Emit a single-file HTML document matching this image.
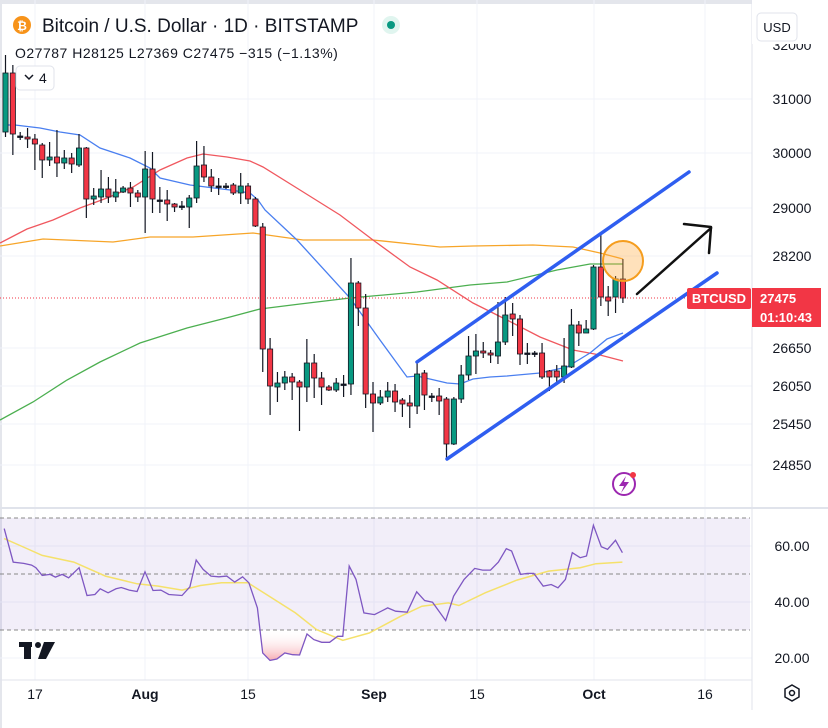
<!DOCTYPE html>
<html><head><meta charset="utf-8"><style>
html,body{margin:0;padding:0;background:#fff;width:828px;height:728px;overflow:hidden;font-family:"Liberation Sans",sans-serif}
</style></head><body>
<svg id="s" width="828" height="728" xmlns="http://www.w3.org/2000/svg" style="position:absolute;left:0;top:0">
<rect x="0" y="0" width="828" height="728" fill="#fff"/>
<rect x="0" y="0" width="828" height="4" fill="#e4e6ec"/>
<rect x="0" y="0" width="2" height="728" fill="#e4e6ec"/>
<g stroke="#f0f3fa" stroke-width="1">
<line x1="0" y1="99" x2="752" y2="99"/><line x1="0" y1="153" x2="752" y2="153"/><line x1="0" y1="208" x2="752" y2="208"/><line x1="0" y1="256" x2="752" y2="256"/><line x1="0" y1="348" x2="752" y2="348"/><line x1="0" y1="386" x2="752" y2="386"/><line x1="0" y1="424" x2="752" y2="424"/><line x1="0" y1="465" x2="752" y2="465"/>
<line x1="35" y1="0" x2="35" y2="680"/><line x1="145" y1="0" x2="145" y2="680"/><line x1="248" y1="0" x2="248" y2="680"/><line x1="374" y1="0" x2="374" y2="680"/><line x1="477" y1="0" x2="477" y2="680"/><line x1="594" y1="0" x2="594" y2="680"/><line x1="705" y1="0" x2="705" y2="680"/>
<line x1="0" y1="546" x2="752" y2="546"/><line x1="0" y1="602" x2="752" y2="602"/><line x1="0" y1="658" x2="752" y2="658"/>
</g>
<line x1="0" y1="508" x2="828" y2="508" stroke="#e0e3eb" stroke-width="2"/>
<line x1="752" y1="0" x2="752" y2="710" stroke="#e0e3eb" stroke-width="1"/>
<line x1="0" y1="680" x2="752" y2="680" stroke="#e0e3eb" stroke-width="1"/>
<g id="ma" fill="none" stroke-width="1.3"></g>
<g id="cd"></g>
<line x1="0" y1="298" x2="690" y2="298" stroke="#f23645" stroke-width="1" stroke-dasharray="1,2"/>
<g stroke="#2f5ef0" stroke-width="3.5" stroke-linecap="round">
<line x1="417" y1="362" x2="689" y2="172"/><line x1="447" y1="459" x2="717" y2="273"/></g>
<circle cx="623" cy="261" r="20" fill="rgba(255,170,60,0.35)" stroke="#f59d1e" stroke-width="2"/>
<g stroke="#111" stroke-width="2.5" fill="none" stroke-linecap="round" stroke-linejoin="round">
<line x1="637" y1="294" x2="711" y2="228"/><polyline points="684,224 711,227 709,253"/></g>
<circle cx="624" cy="484" r="11" fill="none" stroke="#9c27b0" stroke-width="2"/>
<path d="M626,476 L619,486 L624,486 L621,493 L629,482 L624,482 Z" fill="#9c27b0"/>
<circle cx="633" cy="475" r="3" fill="#f23645"/>
<rect x="0" y="518" width="750" height="112" fill="rgba(126,87,194,0.1)"/>
<g stroke="#888" stroke-dasharray="4,3" stroke-width="1"><line x1="0" y1="518" x2="750" y2="518"/><line x1="0" y1="574" x2="750" y2="574"/><line x1="0" y1="630" x2="750" y2="630"/></g>
<defs><linearGradient id="pg" x1="0" y1="630" x2="0" y2="662" gradientUnits="userSpaceOnUse"><stop offset="0" stop-color="#fff" stop-opacity="0"/><stop offset="1" stop-color="#f6a3aa"/></linearGradient>
<clipPath id="cl"><rect x="0" y="630" width="750" height="50"/></clipPath></defs>
<g id="rsi"></g>
<g fill="#131722"><rect x="19" y="642" width="13" height="5"/><rect x="24" y="642" width="7" height="17"/><circle cx="38" cy="645" r="3"/><polygon points="44,642 55,642 46,659 38,659"/></g>
<g font-size="14" fill="#131722" text-anchor="middle">
<text x="792" y="50">32000</text><text x="792" y="104">31000</text><text x="792" y="158">30000</text><text x="792" y="213">29000</text><text x="792" y="261">28200</text><text x="792" y="353">26650</text><text x="792" y="391">26050</text><text x="792" y="429">25450</text><text x="792" y="470">24850</text>
<text x="792" y="551">60.00</text><text x="792" y="607">40.00</text><text x="792" y="663">20.00</text>
</g>
<rect x="752" y="0" width="76" height="44" fill="#fff"/>
<rect x="757" y="13" width="40" height="28" rx="4" fill="#fff" stroke="#e0e3eb"/>
<text x="777" y="32" font-size="13" fill="#131722" text-anchor="middle">USD</text>
<rect x="687" y="288" width="64" height="21" rx="2" fill="#f23645"/>
<text x="719" y="303" font-size="13" font-weight="bold" fill="#fff" text-anchor="middle">BTCUSD</text>
<rect x="752" y="288" width="69" height="39" fill="#f23645"/>
<text x="760" y="303" font-size="13" font-weight="bold" fill="#fff">27475</text>
<text x="760" y="322" font-size="13" font-weight="bold" fill="#fff">01:10:43</text>
<g font-size="14" fill="#131722" text-anchor="middle">
<text x="35" y="699">17</text><text x="145" y="699" font-weight="bold">Aug</text><text x="248" y="699">15</text><text x="374" y="699" font-weight="bold">Sep</text><text x="477" y="699">15</text><text x="594" y="699" font-weight="bold">Oct</text><text x="705" y="699">16</text></g>
<polygon points="792,685 799,689 799,697 792,701 785,697 785,689" fill="none" stroke="#131722" stroke-width="1.5"/><circle cx="792" cy="693" r="2.5" fill="none" stroke="#131722" stroke-width="1.5"/>
<circle cx="22" cy="25" r="9" fill="#f7931a"/><text x="22" y="30" font-size="12" font-weight="bold" fill="#fff" text-anchor="middle">₿</text>
<text x="42" y="32" font-size="19" fill="#131722">Bitcoin / U.S. Dollar · 1D · BITSTAMP</text>
<circle cx="391" cy="25" r="9" fill="#e0f5ef"/><circle cx="391" cy="25" r="4" fill="#089981"/>
<text x="15" y="58" font-size="14" fill="#131722" letter-spacing="0.5">O27787 H28125 L27369 C27475 −315 (−1.13%)</text>
<rect x="16" y="66" width="38" height="24" rx="4" fill="#fff" stroke="#e0e3eb"/>
<polyline points="25,75 29,79 33,75" fill="none" stroke="#131722" stroke-width="1.5"/><text x="39" y="83" font-size="14" fill="#131722">4</text>
</svg>
<script>
var NS="http://www.w3.org/2000/svg";
function el(p,t,a){var e=document.createElementNS(NS,t);for(var k in a)e.setAttribute(k,a[k]);p.appendChild(e);return e;}
var C=[[132,73,55,137],[73,134,65,155],[136,136,132,140],[137,139,128,148],[139,144,134,170],[145,160,143,178],[160,157,142,166],[157,163,130,177],[163,158,150,169],[158,164,153,173],[165,148,134,167],[148,199,147,218],[199,196,188,205],[197,189,170,203],[189,197,177,203],[197,192,179,202],[192,188,186,193],[188,193,182,207],[193,197,190,202],[197,169,151,233],[169,199,152,213],[200,200,187,213],[200,204,190,221],[204,207,203,212],[206,206,201,210],[207,198,195,228],[198,166,141,203],[165,177,146,182],[177,186,169,192],[186,186,178,195],[186,186,183,189],[185,193,183,195],[193,186,173,204],[186,199,183,204],[199,226,197,227],[227,349,223,372],[349,386,338,415],[387,383,372,402],[383,377,371,390],[377,382,373,400],[382,387,380,431],[387,363,339,402],[363,378,354,398],[378,387,372,405],[387,390,385,391],[390,383,378,392],[384,384,375,397],[384,283,258,395],[283,308,281,326],[308,394,294,408],[394,403,382,432],[403,397,390,405],[397,391,382,402],[391,402,384,412],[400,404,398,417],[403,406,395,428],[406,374,363,414],[373,395,370,410],[396,396,393,402],[396,401,388,415],[399,444,397,459],[444,399,397,445],[399,375,365,403],[375,356,336,380],[356,351,334,374],[351,353,342,358],[353,355,350,363],[356,342,302,364],[342,315,297,345],[314,319,303,336],[319,354,315,365],[353,353,343,364],[353,353,351,357],[353,377,343,379],[371,377,370,391],[371,377,365,384],[377,366,338,383],[367,325,309,368],[325,333,321,346],[333,329,320,333],[329,267,265,330],[267,297,232,306],[297,301,286,316],[297,279,276,313],[279,298,259,303]];
var cd=document.getElementById('cd');
C.forEach(function(c,i){var x=5.5+i*7.35,o=c[0],cl=c[1];
var col=(cl<o)?"#089981":(cl>o?"#f23645":"#131722");
el(cd,'line',{x1:x,y1:c[2],x2:x,y2:c[3],stroke:"#131722","stroke-width":1.2});
var t=Math.min(o,cl),h=Math.max(Math.abs(cl-o),1.5);
el(cd,'rect',{x:x-2.6,y:t,width:5.2,height:h,fill:col,stroke:"#131722","stroke-width":0.8});});
var ma=document.getElementById('ma');
function pl(pts,col,g,w){el(g||ma,'polyline',{points:pts,stroke:col,fill:"none","stroke-width":w||1.3});}
pl("0,420 33,402 67,380 100,362 140,343 187,328 230,317 260,309 300,304 350,298 417,292 470,285 507,282 557,270 590,264 623,264","#4caf50");
pl("0,246 43,239 113,242 150,237 193,237 253,233 303,240 373,240 440,247 473,246 533,245 573,247 600,253 623,259","#f7a529");
pl("0,243 27,229 53,220 80,208 107,198 133,187 160,170 187,158 203,154 227,157 250,161 263,167 300,190 340,215 373,240 410,267 437,280 473,303 507,320 540,337 573,350 600,355 623,361","#f0585f");
pl("5,125 15,125 40,128 60,132 80,135 100,148 130,158 150,168 160,178 190,185 230,190 250,193 258,200 265,210 297,240 350,298 380,340 407,377 417,376 447,383 460,384 473,379 490,377 507,376 540,373 567,367 590,353 607,339 623,333","#4a7ff0");
var R=[[8,88],[25,188],[45,192],[60,197],[68,205],[80,228],[95,225],[105,233],[118,225],[130,235],[150,205],[165,288],[180,285],[190,268],[205,280],[220,268],[230,264],[245,272],[260,276],[275,217],[290,273],[305,272],[320,285],[345,288],[360,262],[372,182],[385,210],[400,230],[415,232],[430,230],[445,248],[460,232],[472,250],[488,325],[498,460],[512,482],[525,478],[540,460],[555,465],[568,466],[582,403],[595,420],[610,428],[625,428],[640,410],[650,410],[662,200],[675,240],[690,340],[710,345],[735,325],[750,335],[772,338],[790,277],[805,303],[820,308],[845,363],[860,290],[880,240],[900,207],[915,212],[930,212],[945,188],[960,148],[970,155],[987,225],[1000,222],[1012,222],[1030,260],[1045,255],[1058,265],[1072,240],[1085,160],[1100,175],[1112,170],[1125,78],[1140,142],[1152,150],[1167,123],[1180,160]];
var Y=[[8,118],[40,140],[80,168],[140,188],[200,230],[260,253],[300,260],[345,272],[380,258],[420,250],[470,250],[500,280],[560,340],[600,390],[650,422],[700,400],[760,350],[800,320],[850,310],[870,318],[920,280],[980,242],[1040,215],[1100,205],[1130,193],[1180,188]];
function cv(p){return [(p[0]/1.896).toFixed(1),(546+(p[1]-140)/2.99).toFixed(1)];}
var rg=document.getElementById('rsi');
var rp=R.map(function(p){return cv(p).join(',');}).join(' ');
var f=cv(R[0]),l=cv(R[R.length-1]);
el(rg,'polygon',{points:f[0]+",630 "+rp+" "+l[0]+",630",fill:"url(#pg)","clip-path":"url(#cl)"});
pl(Y.map(function(p){return cv(p).join(',');}).join(' '),"#f5e16b",rg,1.5);
pl(rp,"#7e57c2",rg,1.3);
</script>
</body></html>
